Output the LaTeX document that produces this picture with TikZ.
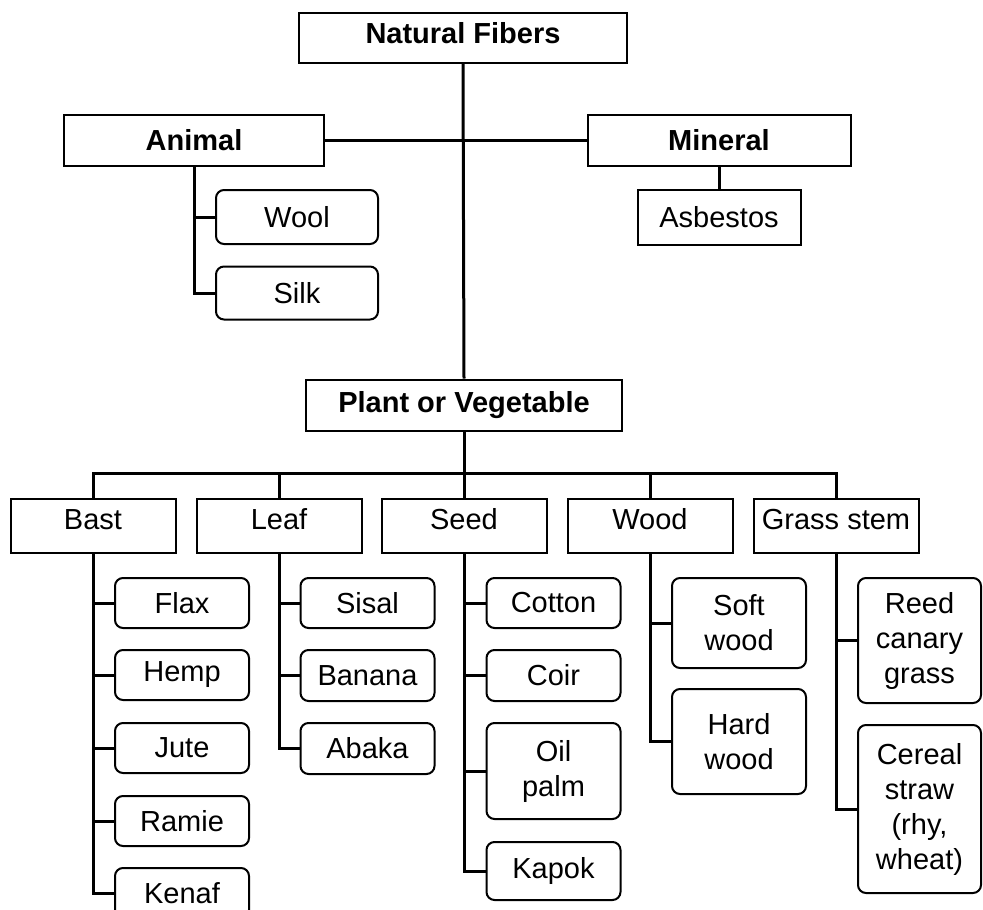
\documentclass[tikz,border=0pt]{standalone}
\usepackage{fontspec}
\setmainfont{Liberation Sans}
\begin{document}
\begin{tikzpicture}[x=1pt,y=-1pt,
  every node/.style={font=\fontsize{29}{35}\selectfont, align=center, inner sep=0pt},
  sqbox/.style={draw, line width=2pt, rectangle},
  rbox/.style={draw, line width=2pt, rectangle, rounded corners=8pt, minimum width=134pt},
  catbox/.style={sqbox, minimum width=165pt, minimum height=54pt, text height=21pt, text depth=14pt},
  conn/.style={line width=3pt}]
\useasboundingbox (0,0) rectangle (983,910);
% top level
\node[sqbox, minimum width=328pt, minimum height=50pt, font=\fontsize{29}{35}\selectfont\bfseries, text height=21pt, text depth=10pt] (nf) at (463,38) {Natural Fibers};
\node[sqbox, minimum width=260pt, minimum height=51pt, font=\fontsize{29}{35}\selectfont\bfseries] (animal) at (194,140) {Animal};
\node[sqbox, minimum width=263pt, minimum height=51pt, font=\fontsize{29}{35}\selectfont\bfseries] (mineral) at (719,140) {Mineral};
\node[sqbox, minimum width=163pt, minimum height=55pt] (asbestos) at (719,217) {Asbestos};
\node[rbox, minimum width=162pt, minimum height=54pt] (wool) at (297,217) {Wool};
\node[rbox, minimum width=162pt, minimum height=53pt] (silk) at (297,293) {Silk};
\node[sqbox, minimum width=316pt, minimum height=51pt, font=\fontsize{29}{35}\selectfont\bfseries] (plant) at (464,405) {Plant or Vegetable};
% categories
\node[catbox] (bast) at (93,526) {Bast};
\node[catbox] (leaf) at (279,526) {Leaf};
\node[catbox] (seed) at (464,526) {Seed};
\node[catbox] (wood) at (650,526) {Wood};
\node[catbox] (grass) at (836,526) {Grass stem};
\coordinate (bar) at (464,473);
% bast
\node[rbox, minimum height=50pt] (flax) at (182,603) {Flax};
\node[rbox, minimum height=50pt] (hemp) at (182,675) {Hemp};
\node[rbox, minimum height=50pt] (jute) at (182,748) {Jute};
\node[rbox, minimum height=50pt] (ramie) at (182,821) {Ramie};
\node[rbox, minimum height=50pt] (kenaf) at (182,893) {Kenaf};
% leaf
\node[rbox, minimum height=50pt] (sisal) at (367.5,603) {Sisal};
\node[rbox, minimum height=51pt] (banana) at (367.5,675.5) {Banana};
\node[rbox, minimum height=51pt] (abaka) at (367.5,748.5) {Abaka};
% seed
\node[rbox, minimum height=50pt] (cotton) at (553.5,603) {Cotton};
\node[rbox, minimum height=51pt] (coir) at (553.5,675.5) {Coir};
\node[rbox, minimum height=96pt] (oilpalm) at (553.5,771) {Oil\\palm};
\node[rbox, minimum height=58pt] (kapok) at (553.5,871) {Kapok};
% wood
\node[rbox, minimum height=90pt] (soft) at (739,623) {Soft\\wood};
\node[rbox, minimum height=105pt] (hard) at (739,741.5) {Hard\\wood};
% grass
\node[rbox, minimum width=123pt, minimum height=125pt] (reed) at (919.5,640.5) {Reed\\canary\\grass};
\node[rbox, minimum width=123pt, minimum height=168pt] (cereal) at (919.5,809) {Cereal\\straw\\(rhy,\\wheat)};
% connectors top
\draw[conn] (nf.south) -- (plant.north);
\draw[conn] (animal.east) -- (mineral.west);
\draw[conn] (mineral.south) -- (asbestos.north);
\draw[conn] (animal.south) |- (silk.west);
\draw[conn] (animal.south |- wool.west) -- (wool.west);
% plant
\draw[conn] (plant.south) -- (seed.north);
\draw[conn] (bast.north) |- (bar) -| (grass.north);
\draw[conn] (leaf.north) -- (leaf.north |- bar);
\draw[conn] (wood.north) -- (wood.north |- bar);
% bast
\draw[conn] (bast.south) |- (kenaf.west);
\foreach \n in {flax,hemp,jute,ramie} \draw[conn] (bast.south |- \n.west) -- (\n.west);
% leaf
\draw[conn] (leaf.south) |- (abaka.west);
\foreach \n in {sisal,banana} \draw[conn] (leaf.south |- \n.west) -- (\n.west);
% seed
\draw[conn] (seed.south) |- (kapok.west);
\foreach \n in {cotton,coir,oilpalm} \draw[conn] (seed.south |- \n.west) -- (\n.west);
% wood
\draw[conn] (wood.south) |- (hard.west);
\draw[conn] (wood.south |- soft.west) -- (soft.west);
% grass
\draw[conn] (grass.south) |- (cereal.west);
\draw[conn] (grass.south |- reed.west) -- (reed.west);
\end{tikzpicture}
\end{document}
